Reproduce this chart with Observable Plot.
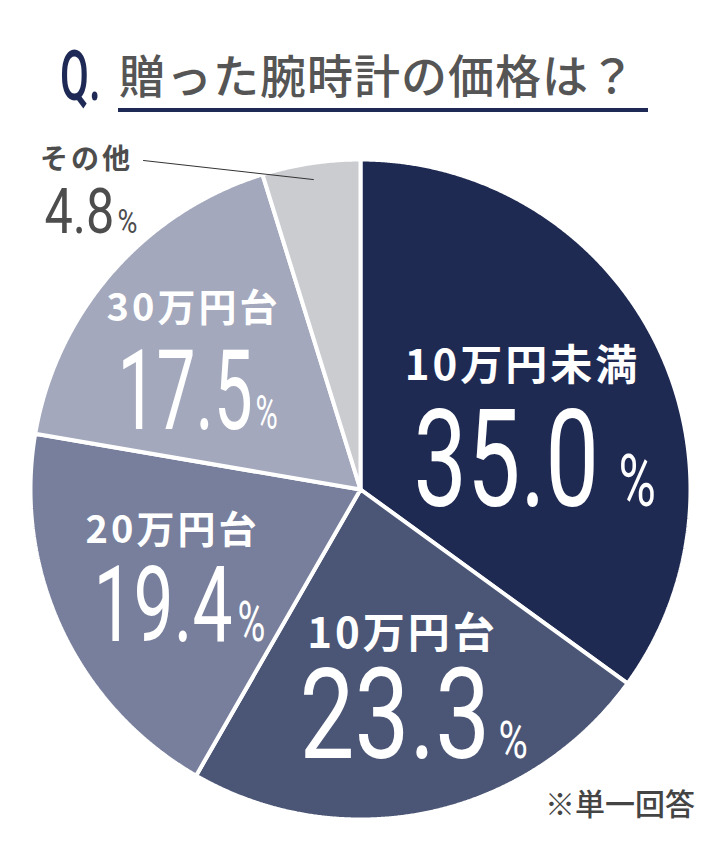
<!DOCTYPE html>
<html><head><meta charset="utf-8">
<script src="https://cdn.jsdelivr.net/npm/d3@7"></script>
<script src="https://cdn.jsdelivr.net/npm/@observablehq/plot@0.6"></script>
<style>
body{margin:0;background:#fff;}
#wrap{position:relative;width:720px;height:850px;overflow:hidden;background:#fff;}
#chart{position:absolute;left:0;top:0;}
.q{position:absolute;left:60px;top:41px;font-family:Roboto,sans-serif;font-size:70px;line-height:1;font-weight:500;color:#1e2a55;transform:scaleX(0.6);transform-origin:left top;white-space:nowrap;}
.t{position:absolute;left:119px;top:50px;font-family:"Noto Sans CJK JP",sans-serif;font-size:46px;line-height:1;font-weight:500;color:#555;letter-spacing:1px;white-space:nowrap;}
.ul{position:absolute;left:118px;top:108px;width:530px;height:4px;background:#1e2a55;}
.note{position:absolute;left:545px;top:787px;font-family:"Noto Sans CJK JP",sans-serif;font-size:30px;line-height:1;font-weight:500;color:#444;white-space:nowrap;}
</style></head><body>
<div id="wrap">
  <div id="chart"></div>
  <div class="q">Q.</div>
  <div class="t">贈った腕時計の価格は？</div>
  <div class="ul"></div>
  <div class="note">※単一回答</div>
</div>
<script>
// ---- data ----
const categories = ["10万円未満", "10万円台", "20万円台", "30万円台", "その他"];
const shares = [35.0, 23.3, 19.4, 17.5, 4.8];
const colors = ["#1f2a53", "#4b5676", "#787f9c", "#a3a8bc", "#cbccd0"];

// ---- layout ----
const CX = 360, CY = 489, R = 330;
// category label: center x, middle y, font size
const catPos = [[522, 366, 42], [402, 634, 42], [172, 530, 38], [193, 308, 38], [86, 160, 28]];
// number label: left x, baseline y, digit font, % left x, % font, horizontal squeeze
const numPos = [
  [413, 505, 136, 618, 73, 0.70],
  [299, 757, 127, 498, 52, 0.77],
  [93, 640, 105, 237, 56, 0.68],
  [117, 428, 112, 255, 49, 0.62],
  [44, 232, 63, 117, 34, 0.80]
];
const leaderEnd = [143, 160];

const rows = categories.map((c, i) => ({category: c, share: shares[i]}));
const arcs = d3.pie().sort(null).value(d => d.share)(rows);
const slicePts = [];
arcs.forEach(a => {
  const c = a.data.category;
  slicePts.push({category: c, x: CX, y: CY});
  const n = Math.max(2, Math.ceil((a.endAngle - a.startAngle) / 0.004));
  for (let k = 0; k <= n; k++) {
    const t = a.startAngle + (a.endAngle - a.startAngle) * k / n;
    slicePts.push({category: c, x: CX + R * Math.sin(t), y: CY - R * Math.cos(t)});
  }
  slicePts.push({category: c, x: CX, y: CY});
});
const last = arcs[arcs.length - 1];
const midA = (last.startAngle + last.endAngle) / 2;
const leader = [
  {x: CX + 0.95 * R * Math.sin(midA), y: CY - 0.95 * R * Math.cos(midA)},
  {x: leaderEnd[0], y: leaderEnd[1]}
];

const white = (d, i) => i < 4;
const gray = (d, i) => i >= 4;
const plot = Plot.plot({
  width: 720, height: 850, margin: 0,
  x: {domain: [0, 720], range: [0, 720], axis: null},
  y: {domain: [0, 850], range: [0, 850], axis: null},
  color: {domain: categories, range: colors},
  style: {background: "transparent"},
  marks: [
    Plot.line(slicePts, {x: "x", y: "y", z: "category", fill: "category", stroke: "white", strokeWidth: 4, strokeLinejoin: "miter", curve: "linear"}),
    Plot.line(leader, {x: "x", y: "y", stroke: "#333", strokeWidth: 1}),
    // group 0,1: category names
    Plot.text(rows, {filter: white, x: (d, i) => catPos[i][0], y: (d, i) => catPos[i][1], fontSize: (d, i) => catPos[i][2], text: "category", fill: "white", fontFamily: "Noto Sans CJK JP", fontWeight: 700, textAnchor: "middle", lineAnchor: "middle"}),
    Plot.text(rows, {filter: gray, x: (d, i) => catPos[i][0], y: (d, i) => catPos[i][1], fontSize: (d, i) => catPos[i][2], text: "category", fill: "#4d4d4d", fontFamily: "Noto Sans CJK JP", fontWeight: 700, textAnchor: "middle", lineAnchor: "middle"}),
    // group 2,3: numbers
    Plot.text(rows, {filter: white, x: (d, i) => numPos[i][0], y: (d, i) => numPos[i][1], fontSize: (d, i) => numPos[i][2], text: d => d.share.toFixed(1), fill: "white", fontFamily: "Roboto", fontWeight: 400, textAnchor: "start", lineAnchor: "bottom"}),
    Plot.text(rows, {filter: gray, x: (d, i) => numPos[i][0], y: (d, i) => numPos[i][1], fontSize: (d, i) => numPos[i][2], text: d => d.share.toFixed(1), fill: "#4d4d4d", fontFamily: "Roboto", fontWeight: 400, textAnchor: "start", lineAnchor: "bottom"}),
    // group 4,5: percent signs
    Plot.text(rows, {filter: white, x: (d, i) => numPos[i][3], y: (d, i) => numPos[i][1], fontSize: (d, i) => numPos[i][4], text: () => "%", fill: "white", fontFamily: "Roboto", fontWeight: 400, textAnchor: "start", lineAnchor: "bottom"}),
    Plot.text(rows, {filter: gray, x: (d, i) => numPos[i][3], y: (d, i) => numPos[i][1], fontSize: (d, i) => numPos[i][4], text: () => "%", fill: "#4d4d4d", fontFamily: "Roboto", fontWeight: 400, textAnchor: "start", lineAnchor: "bottom"})
  ]
});
document.getElementById("chart").appendChild(plot);

const textGroups = Array.from(plot.querySelectorAll("g")).filter(g => g.querySelector(":scope > text"));
textGroups.forEach((g, gi) => {
  const texts = g.querySelectorAll(":scope > text");
  if (gi < 2) {
    texts.forEach(t => t.style.letterSpacing = "3px");
    return;
  }
  texts.forEach((t, k) => {
    const idx = (gi % 2 === 0) ? k : 4;
    const s = numPos[idx][5];
    const tr = t.getAttribute("transform");
    if (tr && /translate/.test(tr)) {
      t.setAttribute("transform", tr + ` scale(${s},1)`);
    } else {
      const x = +(t.getAttribute("x") || 0);
      t.setAttribute("transform", `${tr || ""} translate(${x},0) scale(${s},1) translate(${-x},0)`);
    }
  });
});
</script>
</body></html>
